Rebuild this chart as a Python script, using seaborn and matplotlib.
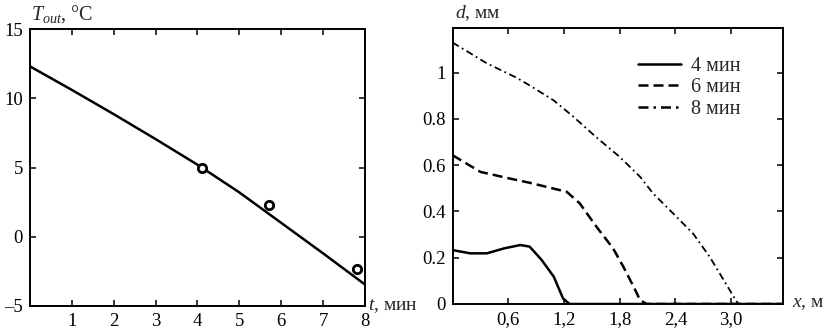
import matplotlib
matplotlib.use("Agg")
import matplotlib.pyplot as plt
import seaborn as sns
import pandas as pd

# left chart: outlet temperature vs time
t_line = [0, 1, 2, 3, 4, 5, 6, 7, 8]
T_line = [12.3, 10.6, 8.85, 7.05, 5.2, 3.2, 1.0, -1.2, -3.45]
t_pts = [4.1, 5.7, 7.8]
T_pts = [5.0, 2.3, -2.3]

# right chart: layer thickness along x for 3 moments
x_4 = [0, 0.19, 0.37, 0.55, 0.73, 0.83, 0.96, 1.09, 1.19, 1.26, 3.56]
d_4 = [0.233, 0.219, 0.219, 0.24, 0.255, 0.248, 0.19, 0.118, 0.024, 0, 0]
x_6 = [0, 0.3, 0.62, 0.83, 1.23, 1.37, 1.55, 1.73, 1.84, 1.95, 2.02, 2.09, 3.56]
d_6 = [0.643, 0.571, 0.542, 0.524, 0.485, 0.435, 0.334, 0.24, 0.161, 0.075, 0.017, 0, 0]
x_8 = [0, 0.37, 0.69, 0.83, 1.09, 1.3, 1.55, 1.8, 2.02, 2.16, 2.38, 2.59, 2.77, 2.92, 3.04, 3.08, 3.56]
d_8 = [1.13, 1.04, 0.978, 0.945, 0.88, 0.81, 0.72, 0.636, 0.55, 0.478, 0.39, 0.305, 0.204, 0.104, 0.024, 0, 0]
labels = ["4 мин", "6 мин", "8 мин"]

left_xticks = [1, 2, 3, 4, 5, 6, 7, 8]
left_yticks = [-5, 0, 5, 10, 15]
left_ylabels = ["–5", "0", "5", "10", "15"]
right_xticks = [0.6, 1.2, 1.8, 2.4, 3.0]
right_xlabels = ["0,6", "1,2", "1,8", "2,4", "3,0"]
right_yticks = [0, 0.2, 0.4, 0.6, 0.8, 1.0]
right_ylabels = ["0", "0.2", "0.4", "0.6", "0.8", "1"]

sns.set_style("ticks")
plt.rcParams["font.family"] = ["Liberation Serif", "DejaVu Serif"]
plt.rcParams["mathtext.fontset"] = "custom"
plt.rcParams["mathtext.rm"] = "Liberation Serif"
plt.rcParams["mathtext.it"] = "Liberation Serif:italic"

W, H = 828, 336
fig = plt.figure(figsize=(W / 100, H / 100), dpi=100)
ax1 = fig.add_axes([30 / W, 1 - 306 / H, 335 / W, 277 / H])
ax2 = fig.add_axes([452.6 / W, 1 - 304 / H, 330.4 / W, 276 / H])

# left
sns.lineplot(x=t_line, y=T_line, ax=ax1, color="black", lw=1.8)
sns.scatterplot(x=t_pts, y=T_pts, ax=ax1, marker="o", s=36, facecolor="white",
                edgecolor="black", linewidth=2, zorder=3)
ax1.set_xlim(0, 8)
ax1.set_ylim(-5, 15)
ax1.set_xticks(left_xticks)
ax1.set_yticks(left_yticks)
ax1.set_yticklabels(left_ylabels)

# right
df = pd.concat([
    pd.DataFrame({"x": x_4, "d": d_4, "t": labels[0]}),
    pd.DataFrame({"x": x_6, "d": d_6, "t": labels[1]}),
    pd.DataFrame({"x": x_8, "d": d_8, "t": labels[2]}),
])
sns.lineplot(data=df, x="x", y="d", style="t", ax=ax2, color="black", lw=1.8,
             sort=False, estimator=None,
             dashes={labels[0]: "", labels[1]: (4, 2), labels[2]: (4, 2, 1, 2)})
ax2.lines[2].set_linewidth(1.3)
ax2.set_xlim(0, 3.56)
ax2.set_ylim(0, 1.193)
ax2.set_xticks(right_xticks)
ax2.set_xticklabels(right_xlabels)
ax2.set_yticks(right_yticks)
ax2.set_yticklabels(right_ylabels)
leg = ax2.legend(loc="center left", bbox_to_anchor=(0.507, 0.783), frameon=False,
                 fontsize=14.5, handlelength=2.1, labelspacing=0.12, handletextpad=0.5)
for h in leg.get_lines():
    h.set_linewidth(1.8)

for ax in (ax1, ax2):
    ax.set_xlabel("")
    ax.set_ylabel("")
    for s in ax.spines.values():
        s.set_visible(True)
        s.set_linewidth(1.4)
        s.set_color("black")
    ax.tick_params(direction="in", length=4.5, width=1.1, top=True, right=True,
                   labelsize=13.5, colors="black")
    ax.tick_params(axis="x", pad=5)
    ax.tick_params(axis="y", pad=5)

fig.text(31 / W, 1 - 20 / H, "$T_{out}$, °C", fontsize=14.5, va="baseline")
fig.text(368 / W, 1 - 306 / H, "$t$, мин", fontsize=14, va="center")
fig.text(455 / W, 1 - 18 / H, "$d$, мм", fontsize=14, va="baseline")
fig.text(792 / W, 1 - 304 / H, "$x$, м", fontsize=14, va="center")

fig.savefig("out.png", dpi=100)
